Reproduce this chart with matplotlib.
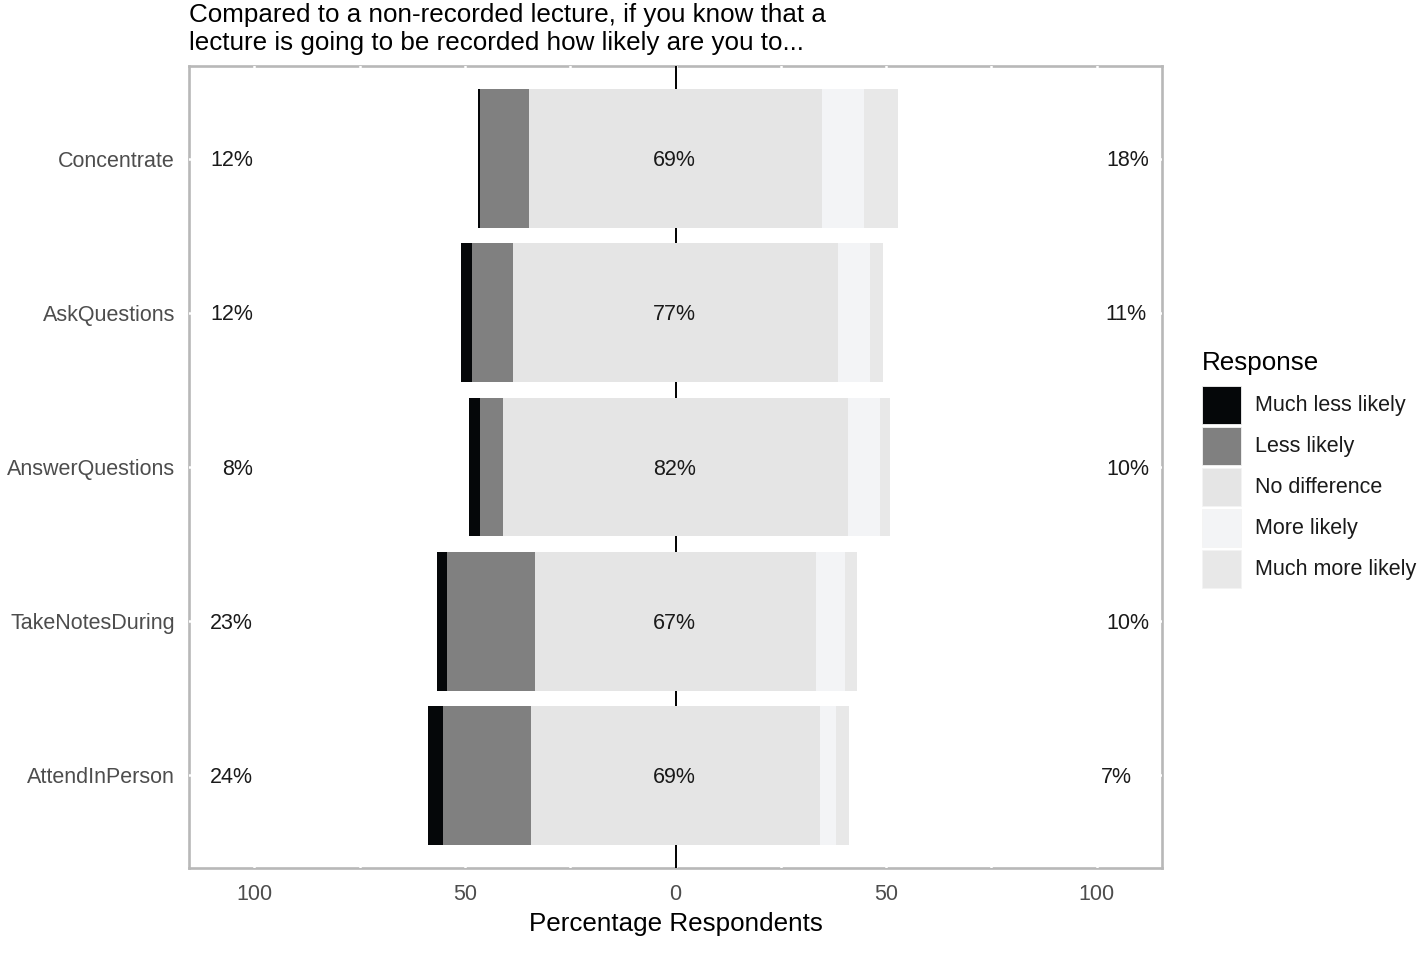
import matplotlib
matplotlib.use("Agg")
import matplotlib.pyplot as plt
import matplotlib.transforms as mtransforms
from matplotlib.patches import Patch
import numpy as np

plt.rcParams['font.family'] = ['Liberation Sans', 'DejaVu Sans']

# ---------------- data ----------------
items = ["Concentrate", "AskQuestions", "AnswerQuestions", "TakeNotesDuring", "AttendInPerson"]
levels = ["Much less likely", "Less likely", "No difference", "More likely", "Much more likely"]
much_less = [0.5, 2.6, 2.5, 2.5, 3.4]
less = [11.8, 9.7, 5.6, 20.8, 21.0]
neutral = [69.4, 77.1, 81.8, 66.8, 68.6]
more = [10.1, 7.7, 7.7, 6.9, 3.8]
much_more = [8.1, 2.9, 2.4, 2.9, 3.2]
xticks = [-100, -50, 0, 50, 100]
xticklabels = ["100", "50", "0", "50", "100"]
title_lines = ["Compared to a non-recorded lecture, if you know that a",
               "lecture is going to be recorded how likely are you to..."]
xlabel = "Percentage Respondents"
legend_title = "Response"

colors = ["#050709", "#808080", "#e5e5e5", "#f3f4f6", "#e8e8e8"]

# ---------------- figure ----------------
W, H = 1418, 958
fig = plt.figure(figsize=(W / 100, H / 100), dpi=100)
ax = fig.add_axes([189 / W, 1 - 868 / H, (1162 - 189) / W, (868 - 66) / H])

y = np.arange(len(items))
ml = np.array(much_less); l = np.array(less); n = np.array(neutral)
m = np.array(more); mm = np.array(much_more)

bw = 0.9
ax.barh(y, l, left=-n / 2 - l, height=bw, color=colors[1], zorder=3)
ax.barh(y, ml, left=-n / 2 - l - ml, height=bw, color=colors[0], zorder=3)
ax.barh(y, n, left=-n / 2, height=bw, color=colors[2], zorder=3)
ax.barh(y, m, left=n / 2, height=bw, color=colors[3], zorder=3)
ax.barh(y, mm, left=n / 2 + m, height=bw, color=colors[4], zorder=3)

ax.axvline(0, color="black", linewidth=1.4, zorder=2.8)

small = 15.5
big = 18.7
txtc = "#1a1a1a"
fs_px = small * 100 / 72
base_off = -0.358 * fs_px  # put the centre of the digits on the bar centre
low = ml + l
high = m + mm
tr_base = mtransforms.offset_copy(ax.transData, fig=fig, x=0, y=base_off, units="dots")
for yi, lo, ne in zip(y, low, n):
    ax.text(-100.3, yi, f"{round(lo)}%", ha="right", va="baseline", fontsize=small,
            color=txtc, zorder=4, transform=tr_base)
    ax.text(-0.2, yi, f"{round(ne)}%", ha="center", va="baseline", fontsize=small,
            color=txtc, zorder=4, transform=tr_base)
right_texts = []
for yi, hi in zip(y, high):
    right_texts.append(ax.text(97.6, yi, f"{round(hi)}%", ha="left", va="baseline",
                               fontsize=small, color=txtc, zorder=4, transform=tr_base))

ax.set_xlim(-115.5, 115.5)
ax.set_ylim(len(items) - 1 + 0.6, -0.6)
ax.set_yticks(y)
ax.set_yticklabels(items)
ax.set_xticks(xticks)
ax.set_xticklabels(xticklabels)
ax.set_xticks([-75, -25, 25, 75], minor=True)

ax.tick_params(axis="y", length=0, pad=10, labelsize=small, labelcolor="#4d4d4d")
ax.tick_params(axis="x", which="both", length=0, pad=11.5, labelsize=small, labelcolor="#4d4d4d")
ax.set_xlabel(xlabel, fontsize=big, color="black", labelpad=5)

# white grid lines cutting the border (ggplot-like)
ax.set_axisbelow(False)
ax.grid(True, which="major", color="white", linewidth=1.8)
ax.grid(True, which="minor", axis="x", color="white", linewidth=1.8)

for s in ax.spines.values():
    s.set_color("#b8b8b8")
    s.set_linewidth(1.9)

# titles
fig.text(189 / W, 1 - 22 / H, title_lines[0], fontsize=big, va="baseline", ha="left")
fig.text(189 / W, 1 - 50 / H, title_lines[1], fontsize=big, va="baseline", ha="left")

# legend
fig.text(1202 / W, 1 - 370 / H, legend_title, fontsize=big, va="baseline", ha="left")
handles = [Patch(facecolor=c, edgecolor="#f4f4f4", linewidth=0.6) for c in colors]
hh = (38 / fs_px - 0.245) / 0.65
leg = fig.legend(handles, levels, loc="upper left",
                 bbox_to_anchor=(1201.7 / W, 1 - 385.7 / H), frameon=False,
                 fontsize=small, handlelength=39 / fs_px, handleheight=hh,
                 labelspacing=3 / fs_px, handletextpad=0.68, borderpad=0, borderaxespad=0)
for t in leg.get_texts():
    t.set_color(txtc)

# hjust-like placement for the right labels
fig.canvas.draw()
r = fig.canvas.get_renderer()
for t in right_texts:
    w = t.get_window_extent(r).width
    t.set_transform(mtransforms.offset_copy(ax.transData, fig=fig, x=0.463 * w, y=base_off, units="dots"))

fig.savefig("out.png", dpi=100)
